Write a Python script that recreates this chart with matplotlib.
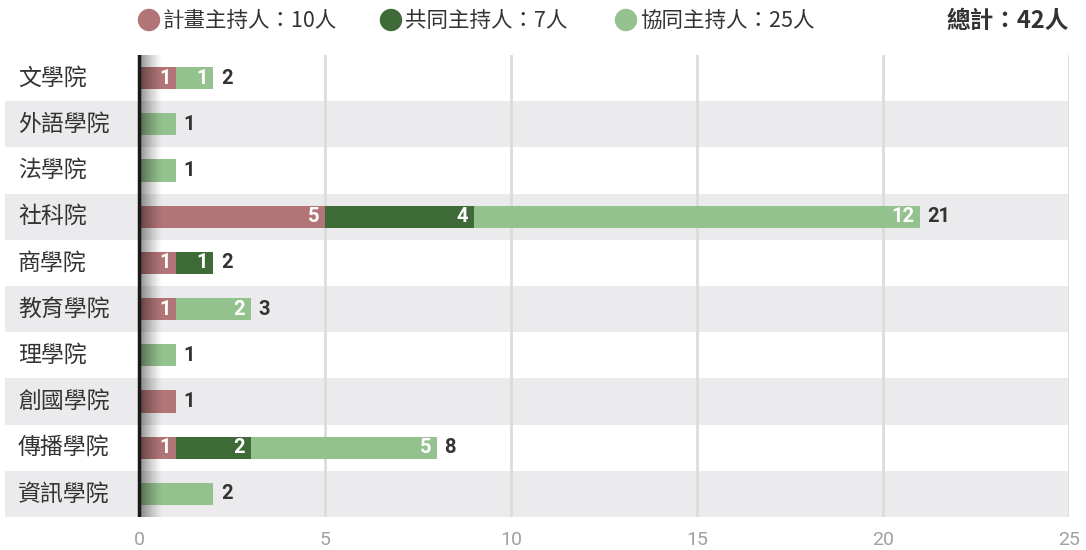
import numpy as np
import matplotlib.pyplot as plt
from matplotlib.patches import Ellipse

colleges = ['文學院', '外語學院', '法學院', '社科院', '商學院',
            '教育學院', '理學院', '創國學院', '傳播學院', '資訊學院']
pi = [1, 0, 0, 5, 1, 1, 0, 1, 1, 0]        # 計畫主持人
co_pi = [0, 0, 0, 4, 1, 0, 0, 0, 2, 0]     # 共同主持人
collab = [1, 1, 1, 12, 0, 2, 1, 0, 5, 2]   # 協同主持人
series_names = ['計畫主持人', '共同主持人', '協同主持人']
colors = ['#b27577', '#3e6a38', '#94c28e']
xticks = [0, 5, 10, 15, 20, 25]

CJK = ['Noto Sans CJK TC', 'DejaVu Sans']
NUM = ['Roboto', 'DejaVu Sans']
W, H = 1086, 550

fig = plt.figure(figsize=(W / 100, H / 100), dpi=100)
ax = fig.add_axes([5 / W, 33 / H, 1064 / W, 462 / H])
xmin = -134 / 37.2
ax.set_xlim(xmin, 25)
ax.set_ylim(len(colleges) - 0.5, -0.5)

# alternating row bands
for i in range(len(colleges)):
    if i % 2 == 1:
        ax.axhspan(i - 0.5, i + 0.5, color='#ebebed', lw=0, zorder=0)

for x in xticks[1:]:
    ax.axvline(x, color='#dcdcdc', lw=2, zorder=1)

series = [pi, co_pi, collab]
y = np.arange(len(colleges))
left = np.zeros(len(colleges))
for vals, c in zip(series, colors):
    vals = np.array(vals)
    ax.barh(y, vals, left=left, height=0.48, color=c, lw=0, zorder=2)
    left += vals

nseg = np.sum([np.array(s) > 0 for s in series], axis=0)
for i in range(len(colleges)):
    acc = 0
    for s in series:
        v = s[i]
        if v == 0:
            continue
        acc += v
        if nseg[i] > 1:
            ax.text(acc - 0.15, i, str(v), ha='right', va='center',
                    color='white', fontsize=14.5, fontweight='bold',
                    family=NUM, zorder=5)
    ax.text(acc + 0.2, i, str(acc), ha='left', va='center', color='#333333',
            fontsize=14.5, fontweight='bold', family=NUM, zorder=5)
    ax.text(xmin + 0.35, i, colleges[i], ha='left', va='center',
            color='#333333', fontsize=16.5, family=CJK, zorder=5)

# shadow next to the zero line
grad = np.zeros((1, 64, 4))
grad[0, :, 3] = np.linspace(0.55, 0, 64) ** 1.3
ax.imshow(grad, extent=[0, 0.62, len(colleges) - 0.5, -0.5],
          aspect='auto', zorder=3, interpolation='bilinear')
ax.axvline(0, color='#1a1a1a', lw=2.5, zorder=4)
ax.set_xlim(xmin, 25)
ax.set_ylim(len(colleges) - 0.5, -0.5)

ax.set_xticks(xticks)
ax.set_xticklabels([str(t) for t in xticks], family=NUM, fontsize=14,
                   color='#a0a0a0')
ax.tick_params(axis='x', length=0, pad=10)
ax.set_yticks([])
for sp in ax.spines.values():
    sp.set_visible(False)

# legend
totals = [sum(s) for s in series]
leg_x = [149, 391, 626]
for lx, name, tot, c in zip(leg_x, series_names, totals, colors):
    fig.patches.append(Ellipse((lx / W, 1 - 20 / H), 21 / W, 21 / H,
                               transform=fig.transFigure, color=c,
                               figure=fig))
    fig.text((lx + 14) / W, 1 - 21 / H, f'{name}：{tot}人', ha='left',
             va='center', fontsize=15.5, color='#333333', family=CJK)
fig.text(1069 / W, 1 - 21 / H, f'總計：{sum(totals)}人', ha='right',
         va='center', fontsize=17, fontweight='bold', color='#333333',
         family=CJK)

fig.savefig('out.png', dpi=100)
